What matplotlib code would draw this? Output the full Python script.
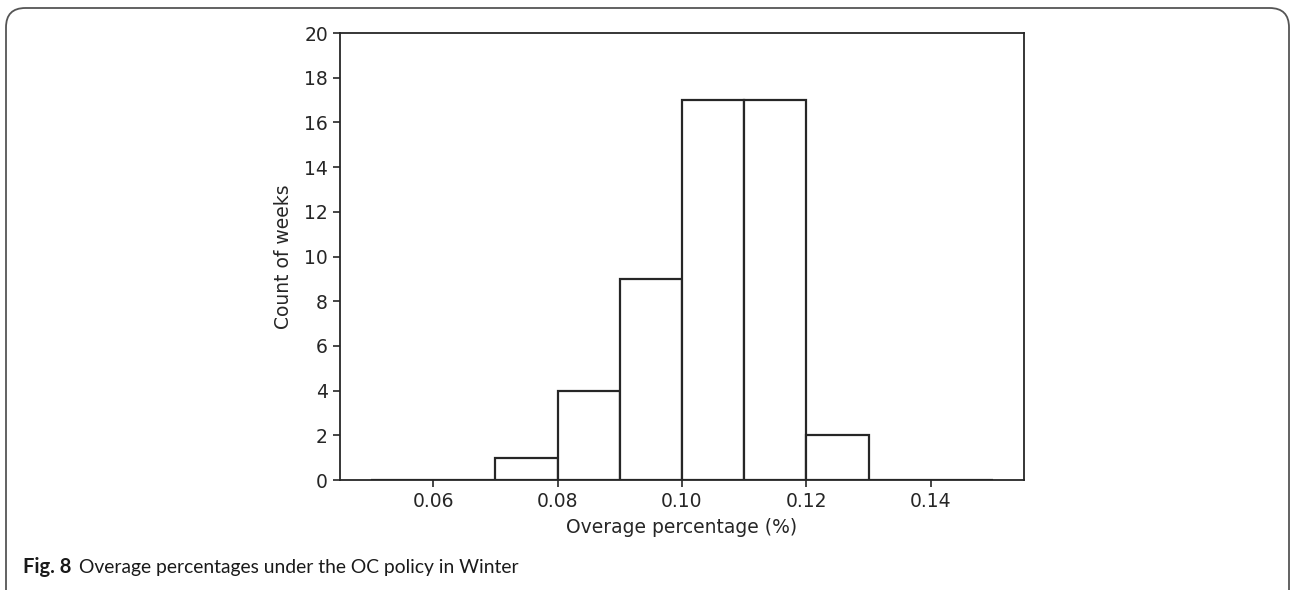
import matplotlib
matplotlib.use("Agg")
import matplotlib.pyplot as plt
from matplotlib.patches import FancyBboxPatch

# histogram bins (overage %) and weekly counts
bin_edges = [0.05, 0.06, 0.07, 0.08, 0.09, 0.10, 0.11, 0.12, 0.13, 0.14, 0.15]
bin_counts = [0, 0, 1, 4, 9, 17, 17, 2, 0, 0]
x_ticks = [0.06, 0.08, 0.10, 0.12, 0.14]
y_ticks = [0, 2, 4, 6, 8, 10, 12, 14, 16, 18, 20]

line_col = "#262626"

fig = plt.figure(figsize=(12.92, 5.90), dpi=100)
ax = fig.add_axes([0.263, 0.1864, 0.5296, 0.7576])

centers = [(a + b) / 2 for a, b in zip(bin_edges[:-1], bin_edges[1:])]
ax.hist(centers, bins=bin_edges, weights=bin_counts, histtype="bar",
        facecolor="white", edgecolor=line_col, linewidth=1.6)

ax.set_xlim(0.045, 0.155)
ax.set_ylim(0, 20)
ax.set_xticks(x_ticks)
ax.set_xticklabels([f"{t:.2f}" for t in x_ticks])
ax.set_yticks(y_ticks)
ax.tick_params(labelsize=13.5, colors=line_col, length=5, width=1.2)
for s in ax.spines.values():
    s.set_color(line_col)
    s.set_linewidth(1.3)
ax.set_xlabel("Overage percentage (%)", fontsize=13.5, color=line_col, labelpad=5)
ax.set_ylabel("Count of weeks", fontsize=13.5, color=line_col, labelpad=8)

# rounded frame around the figure (bottom cut off)
frame = FancyBboxPatch((6 / 1292, -0.1), 1283 / 1292, 1.1 - 8 / 590,
                       boxstyle="round,pad=0,rounding_size=0.015",
                       transform=fig.transFigure, facecolor="none",
                       edgecolor="#555555", linewidth=1.3, clip_on=False,
                       mutation_aspect=1292 / 590)
fig.patches.append(frame)

cap_y = 1 - 567 / 590
fig.text(23 / 1292, cap_y, "Fig. 8", fontsize=14.5, fontweight="bold",
         family="Lato", color="#1a1a1a", va="center")
fig.text(79 / 1292, cap_y, "Overage percentages under the OC policy in Winter",
         fontsize=13.9, family="Lato", color="#1a1a1a", va="center")

fig.savefig("out.png", dpi=100)
